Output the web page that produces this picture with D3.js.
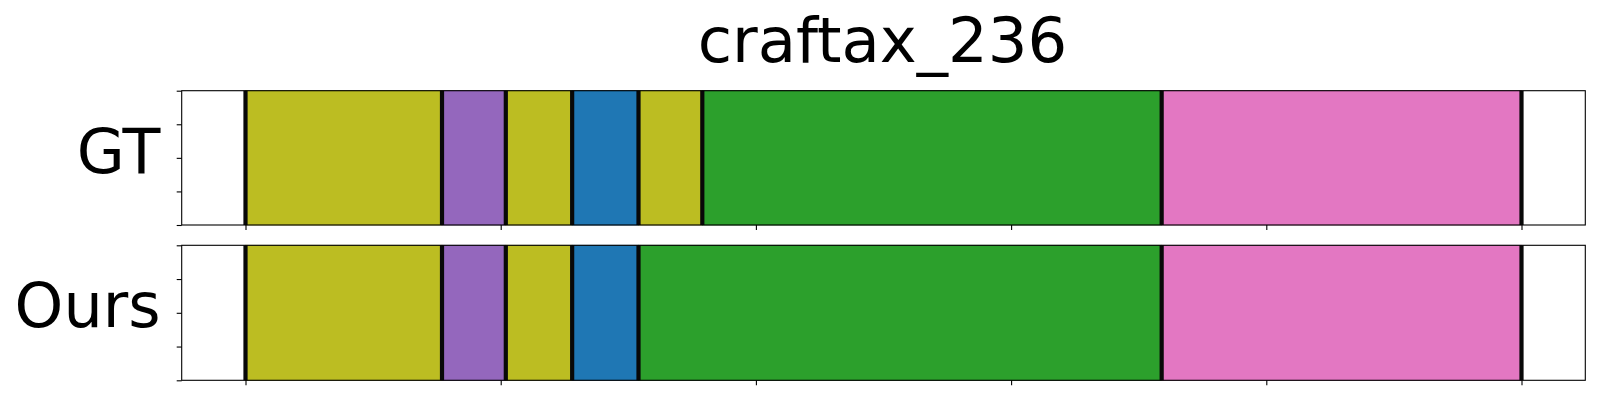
<!DOCTYPE html>
<html>
<head>
<meta charset="utf-8">
<script src="https://cdn.jsdelivr.net/npm/d3@7"></script>
<style>
html,body{margin:0;padding:0;background:#fff;}
svg{display:block;}
text{font-family:"DejaVu Sans",sans-serif;fill:#000;}
</style>
</head>
<body>
<svg id="chart" width="1600" height="400"></svg>
<script>
// ---- data ----
const title = "craftax_236";
const rowLabels = ["GT", "Ours"];
const classColors = ["#1f77b4","#ff7f0e","#2ca02c","#d62728","#9467bd","#8c564b","#e377c2","#7f7f7f","#bcbd22","#17becf"];
const gtStart = [0, 77, 102, 128, 154, 179, 359];
const gtEnd   = [77, 102, 128, 154, 179, 359, 500];
const gtClass = [8, 4, 8, 0, 8, 2, 6];
const oursStart = [0, 77, 102, 128, 154, 359];
const oursEnd   = [77, 102, 128, 154, 359, 500];
const oursClass = [8, 4, 8, 0, 2, 6];
const xTicks = [0, 100, 200, 300, 400, 500];
const yTicks = [0, 0.25, 0.5, 0.75, 1];
const xDomain = [-25, 525];

// ---- layout ----
const svg = d3.select("#chart");
const left = 181.7, right = 1585.3;
const panels = [
  {label: rowLabels[0], top: 90.7, bottom: 225, start: gtStart, end: gtEnd, cls: gtClass, base: 173.3},
  {label: rowLabels[1], top: 245.3, bottom: 380.3, start: oursStart, end: oursEnd, cls: oursClass, base: 327}
];
const x = d3.scaleLinear().domain(xDomain).range([left, right]);

svg.append("text").attr("x", (left+right)/2 - 1).attr("y", 62)
  .attr("text-anchor", "middle").attr("font-size", 62.5).text(title);

panels.forEach(p => {
  const y = d3.scaleLinear().domain([0,1]).range([p.bottom, p.top]);
  const g = svg.append("g");
  const segs = p.start.map((s,i) => ({s, e: p.end[i], c: classColors[p.cls[i]]}));
  g.selectAll("rect.seg").data(segs).join("rect").attr("class","seg")
    .attr("x", d => x(d.s)).attr("width", d => x(d.e) - x(d.s))
    .attr("y", y(1)).attr("height", y(0) - y(1))
    .attr("fill", d => d.c)
    .attr("stroke", d => d3.color(d.c).darker(0.4)).attr("stroke-width", 0.8);
  const bounds = p.start.concat([p.end[p.end.length-1]]);
  g.selectAll("line.b").data(bounds).join("line").attr("class","b")
    .attr("x1", d => x(d)).attr("x2", d => x(d))
    .attr("y1", y(1)).attr("y2", y(0))
    .attr("stroke", "#080808").attr("stroke-width", 4.2);
  // axes
  const xa = d3.axisBottom(x).tickValues(xTicks).tickSize(5).tickFormat("");
  g.append("g").attr("transform", `translate(0,${p.bottom})`).call(xa)
    .call(a => a.select(".domain").remove())
    .selectAll("line").attr("stroke", "#000").attr("stroke-width", 1.1);
  const ya = d3.axisLeft(y).tickValues(yTicks).tickSize(5).tickFormat("");
  g.append("g").attr("transform", `translate(${left},0)`).call(ya)
    .call(a => a.select(".domain").remove())
    .selectAll("line").attr("stroke", "#000").attr("stroke-width", 1.1);
  g.append("rect").attr("x", left).attr("y", p.top)
    .attr("width", right-left).attr("height", p.bottom-p.top)
    .attr("fill", "none").attr("stroke", "#000").attr("stroke-width", 1.1);
  svg.append("text").attr("x", 160.5).attr("y", p.base)
    .attr("text-anchor", "end").attr("font-size", 62).text(p.label);
});
</script>
</body>
</html>
